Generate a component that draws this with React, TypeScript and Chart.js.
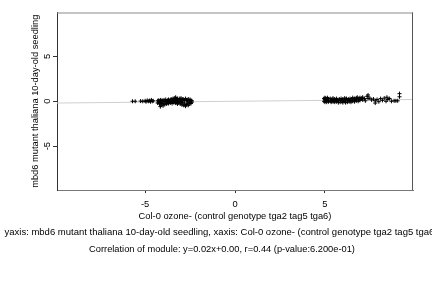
import React, { useEffect, useRef } from "react";
import { Chart, registerables } from "chart.js";

Chart.register(...registerables);

const xTickValues = [-5, 0, 5];
const yTickValues = [-5, 0, 5];

const xTitle = "Col-0 ozone- (control genotype tga2 tag5 tga6)";
const yTitle = "mbd6 mutant thaliana 10-day-old seedling";
const captionLine1 =
  "yaxis: mbd6 mutant thaliana 10-day-old seedling, xaxis: Col-0 ozone- (control genotype tga2 tag5 tga6)";
const captionLine2 =
  "Correlation of module: y=0.02x+0.00, r=0.44 (p-value:6.200e-01)";

// left cluster (x, y)
const leftX = [
  -5.7, -5.55, -5.25, -5.13, -5.0, -4.95, -4.88, -4.82, -4.75, -4.7, -4.65, -4.6, -4.55,
  -4.3, -4.3, -4.25, -4.25, -4.2, -4.2, -4.15, -4.15, -4.15, -4.1, -4.1, -4.05, -4.05,
  -4.0, -4.0, -3.95, -3.95, -3.9, -3.9, -3.85, -3.85, -3.8, -3.8, -3.75, -3.75, -3.7,
  -3.7, -3.65, -3.65, -3.6, -3.6, -3.55, -3.55, -3.5, -3.5, -3.45, -3.45, -3.4, -3.4,
  -3.35, -3.35, -3.3, -3.3, -3.3, -3.25, -3.25, -3.2, -3.2, -3.2, -3.15, -3.15, -3.1,
  -3.1, -3.05, -3.05, -3.0, -3.0, -3.0, -2.95, -2.95, -2.9, -2.9, -2.85, -2.85, -2.8,
  -2.8, -2.75, -2.75, -2.7, -2.7, -2.65, -2.65, -2.6, -2.6, -2.55, -2.55, -2.5, -2.5,
  -2.45, -2.45, -2.4, -2.4,
];
const leftY = [
  0.0, 0.0, 0.02, 0.0, 0.05, -0.05, 0.1, 0.0, 0.08, -0.05, 0.15, 0.0, 0.05,
  0.05, -0.2, -0.1, 0.1, -0.3, 0.0, -0.6, -0.15, 0.15, -0.4, 0.05, -0.25, 0.1,
  -0.5, 0.0, -0.2, 0.15, -0.35, 0.05, -0.1, 0.2, -0.3, 0.0, 0.1, -0.15, -0.25,
  0.2, 0.0, -0.1, 0.15, -0.2, 0.25, -0.05, 0.1, -0.25, 0.3, 0.0, -0.15, 0.2,
  0.35, -0.05, 0.45, 0.1, -0.2, 0.25, -0.1, 0.3, 0.0, -0.3, 0.15, -0.15, 0.3,
  -0.05, 0.2, -0.3, 0.35, 0.0, -0.2, 0.1, -0.4, 0.25, -0.15, 0.2, -0.45, 0.05,
  -0.3, 0.3, -0.55, 0.15, -0.35, 0.1, -0.2, 0.25, -0.45, 0.0, -0.3, 0.2, -0.15,
  0.1, -0.25, 0.05, -0.1,
];

// right cluster (x, y)
const rightX = [
  4.95, 4.95, 5.0, 5.0, 5.0, 5.05, 5.05, 5.1, 5.1, 5.15, 5.15, 5.2, 5.2, 5.3, 5.3,
  5.35, 5.35, 5.4, 5.45, 5.45, 5.5, 5.5, 5.55, 5.55, 5.6, 5.65, 5.65, 5.7, 5.75, 5.75,
  5.8, 5.85, 5.85, 5.9, 5.95, 5.95, 6.0, 6.0, 6.05, 6.1, 6.1, 6.15, 6.15, 6.2, 6.25,
  6.25, 6.3, 6.35, 6.35, 6.4, 6.45, 6.45, 6.5, 6.55, 6.55, 6.6, 6.65, 6.65, 6.7, 6.75,
  6.75, 6.8, 6.85, 6.85, 6.9, 6.95, 6.95, 7.0, 7.05, 7.1, 7.1, 7.2, 7.25, 7.35, 7.4,
  7.4, 7.5, 7.6, 7.7, 7.8, 7.8, 7.9, 8.0, 8.1, 8.2, 8.3, 8.4, 8.45, 8.5, 8.6, 8.7,
  8.85, 8.95, 9.05, 9.15, 9.15,
];
const rightY = [
  0.3, 0.0, 0.2, -0.1, 0.4, 0.35, 0.05, 0.15, -0.1, 0.4, 0.1, 0.25, -0.05, 0.3, 0.0,
  0.1, -0.1, 0.2, 0.35, -0.05, 0.15, 0.0, 0.25, -0.1, 0.1, 0.3, -0.05, 0.15, 0.05, -0.15,
  0.25, 0.1, -0.1, 0.3, 0.15, -0.05, 0.25, -0.15, 0.1, 0.35, 0.0, 0.2, -0.15, 0.3, 0.05,
  -0.1, 0.25, 0.15, -0.05, 0.3, 0.1, -0.1, 0.25, 0.4, 0.0, 0.15, 0.3, -0.05, 0.2, 0.35,
  0.05, 0.45, 0.2, 0.0, 0.3, 0.4, 0.1, 0.25, 0.35, 0.15, 0.45, 0.3, 0.05, 0.55, 0.7,
  0.3, 0.35, 0.15, 0.25, -0.2, 0.05, 0.2, -0.05, 0.3, 0.1, 0.35, 0.0, 0.45, 0.2, 0.3, 0.0,
  0.05, 0.05, 0.05, 0.5, 0.85,
];

// fitted line y = 0.02x + 0.00 endpoints
const fitX = [-9.9, 9.9];
const fitY = [-0.198, 0.198];

const FONT = "'Liberation Sans', Arial, Helvetica, sans-serif";
const FS = 9.3;

export default function App() {
  const ref = useRef<HTMLCanvasElement | null>(null);

  useEffect(() => {
    document.body.style.margin = "0";
    const canvas = ref.current;
    if (!canvas) return;

    const points = [
      ...leftX.map((x, i) => ({ x, y: leftY[i] })),
      ...rightX.map((x, i) => ({ x, y: rightY[i] })),
    ];
    const fitLine = fitX.map((x, i) => ({ x, y: fitY[i] }));

    const decor = {
      id: "decor",
      afterDraw(chart: any) {
        const ctx = chart.ctx;
        const a = chart.chartArea;
        const ys = chart.scales.y;
        ctx.save();
        // box
        ctx.strokeStyle = "#8a8a8a";
        ctx.lineWidth = 1;
        ctx.beginPath();
        ctx.moveTo(a.left, a.top + 0.5);
        ctx.lineTo(a.right, a.top + 0.5);
        ctx.stroke();
        ctx.strokeStyle = "#555";
        ctx.beginPath();
        ctx.moveTo(a.right - 0.5, a.top);
        ctx.lineTo(a.right - 0.5, a.bottom);
        ctx.stroke();

        ctx.fillStyle = "#000";
        ctx.font = `${FS}px ${FONT}`;
        ctx.textBaseline = "middle";
        ctx.textAlign = "center";
        // y tick labels (rotated)
        for (const v of yTickValues) {
          const py = ys.getPixelForValue(v);
          ctx.save();
          ctx.translate(47.5, py);
          ctx.rotate(-Math.PI / 2);
          ctx.fillText(String(v), 0, 0);
          ctx.restore();
        }
        // y title
        ctx.save();
        ctx.translate(35, (a.top + a.bottom) / 2);
        ctx.rotate(-Math.PI / 2);
        ctx.fillText(yTitle, 0, 0);
        ctx.restore();
        // x title
        const cx = (a.left + a.right) / 2;
        ctx.fillText(xTitle, cx, 216.5);
        ctx.fillText(captionLine2, 222, 249);
        ctx.font = `9.5px ${FONT}`;
        ctx.fillText(captionLine1, 221, 232);
        ctx.restore();
      },
    };

    const chart = new Chart(canvas, {
      type: "scatter",
      data: {
        datasets: [
          {
            data: points,
            pointStyle: "cross",
            pointRadius: 2,
            pointBorderWidth: 1,
            borderColor: "#000",
            backgroundColor: "#000",
          },
          {
            type: "line",
            data: fitLine,
            borderColor: "#cfcfcf",
            borderWidth: 1,
            pointRadius: 0,
            showLine: true,
            fill: false,
          } as any,
        ],
      },
      options: {
        responsive: false,
        animation: false,
        devicePixelRatio: 1,
        layout: { padding: { left: 53, top: 12.5, right: 19, bottom: 71.8 } },
        plugins: {
          legend: { display: false },
          tooltip: { enabled: false },
        },
        scales: {
          x: {
            type: "linear",
            min: -9.9,
            max: 9.9,
            afterBuildTicks: (s: any) => {
              s.ticks = xTickValues.map((v) => ({ value: v }));
            },
            ticks: {
              color: "#000",
              font: { size: FS, family: FONT },
              padding: 6,
              maxRotation: 0,
            },
            grid: {
              display: true,
              drawOnChartArea: false,
              drawTicks: true,
              tickLength: 3,
              color: "#333",
            },
            border: { display: true, color: "#777" },
          },
          y: {
            type: "linear",
            min: -9.9,
            max: 9.9,
            afterBuildTicks: (s: any) => {
              s.ticks = yTickValues.map((v) => ({ value: v }));
            },
            ticks: { display: false },
            grid: {
              display: true,
              drawOnChartArea: false,
              drawTicks: true,
              tickLength: 4,
              color: "#333",
            },
            border: { display: true, color: "#333" },
          },
        },
      },
      plugins: [decor],
    });

    return () => chart.destroy();
  }, []);

  return (
    <div style={{ width: 432, height: 288 }}>
      <canvas ref={ref} width={432} height={288} style={{ display: "block" }} />
    </div>
  );
}
